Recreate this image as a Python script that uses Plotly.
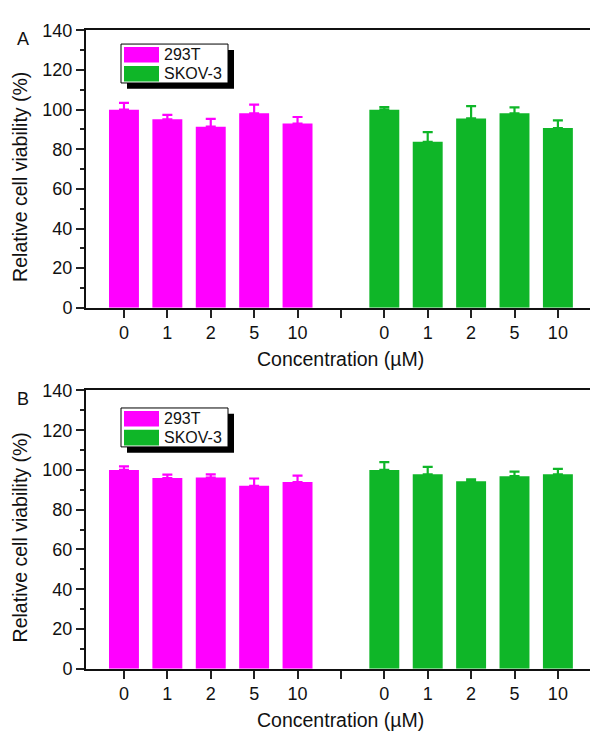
import plotly.graph_objects as go

# ---- data ----
tick_labels = ["0", "1", "2", "5", "10", "", "0", "1", "2", "5", "10"]
series_names = ["293T", "SKOV-3"]
series_colors = ["#FF00FF", "#0FB628"]
pos_293t = [0, 1, 2, 3, 4]
pos_skov = [6, 7, 8, 9, 10]

# Panel A
a_293t = [100.0, 95.1, 91.4, 98.2, 93.0]
a_293t_err = [3.4, 2.3, 4.0, 4.3, 3.3]
a_skov = [100.0, 83.8, 95.6, 98.2, 90.7]
a_skov_err = [1.3, 4.9, 6.2, 3.0, 3.9]

# Panel B
b_293t = [100.0, 95.9, 96.2, 92.0, 93.9]
b_293t_err = [1.8, 1.8, 1.6, 3.7, 3.3]
b_skov = [100.0, 97.8, 94.3, 96.9, 97.8]
b_skov_err = [3.9, 3.8, 1.0, 2.3, 2.8]

W, H = 590, 742
FONT = "Liberation Sans, Arial, sans-serif"


def px(x):
    return x / W


def py(y):
    return 1 - y / H


fig = go.Figure()

panels = [
    dict(letter="A", xa="x", ya="y", top=21, bottom=306,
         data=[(pos_293t, a_293t, a_293t_err), (pos_skov, a_skov, a_skov_err)],
         legend=(121, 35)),
    dict(letter="B", xa="x2", ya="y2", top=391, bottom=677,
         data=[(pos_293t, b_293t, b_293t_err), (pos_skov, b_skov, b_skov_err)],
         legend=(121, 409)),
]

shapes = []
annotations = []

for i, p in enumerate(panels):
    for (xs, ys, es), color, name in zip(p["data"], series_colors, series_names):
        fig.add_trace(go.Bar(
            x=xs, y=ys, name=name, xaxis=p["xa"], yaxis=p["ya"],
            width=0.69, marker=dict(color=color, line=dict(width=0)),
            error_y=dict(type="data", array=es, arrayminus=[0] * len(es),
                         symmetric=False, color=color, thickness=2.2, width=5),
            showlegend=False,
        ))

    sfx = "" if i == 0 else "2"
    dom_y = [py(p["bottom"]), py(p["top"])]
    fig.update_layout(**{
        "xaxis" + sfx: dict(
            domain=[px(86), 1], range=[-0.875, 10.74], anchor="y" + sfx,
            tickmode="array", tickvals=list(range(11)), ticktext=tick_labels,
            ticks="outside", ticklen=8, tickwidth=1.5, tickcolor="#222",
            showline=True, linecolor="#111", linewidth=2, mirror=True,
            showgrid=False, zeroline=False,
            tickfont=dict(family=FONT, size=18, color="#111"),
        ),
        "yaxis" + sfx: dict(
            domain=dom_y, range=[0, 140], anchor="x" + sfx,
            tickmode="linear", tick0=0, dtick=20,
            ticks="outside", ticklen=8, tickwidth=1.5, tickcolor="#222",
            minor=dict(dtick=10, ticks="outside", ticklen=4, tickwidth=1.5, tickcolor="#222"),
            showline=True, linecolor="#111", linewidth=2, mirror=False,
            showgrid=False, zeroline=False,
            tickfont=dict(family=FONT, size=18, color="#111"),
        ),
    })

    # Axis titles
    annotations.append(dict(
        text="Concentration (µM)", xref="paper", yref="paper",
        x=px(340), y=py(p["bottom"] + 53), xanchor="center", yanchor="middle",
        showarrow=False, font=dict(family=FONT, size=19.5, color="#111"),
    ))
    annotations.append(dict(
        text="Relative cell viability (%)", xref="paper", yref="paper",
        x=px(20), y=py((p["top"] + p["bottom"]) / 2 + 8), xanchor="center", yanchor="middle",
        textangle=-90, showarrow=False, font=dict(family=FONT, size=19.5, color="#111"),
    ))
    # Panel letter
    annotations.append(dict(
        text=p["letter"], xref="paper", yref="paper",
        x=px(23), y=py(p["top"] + 9), xanchor="center", yanchor="middle",
        showarrow=False, font=dict(family=FONT, size=18, color="#111"),
    ))

    # Custom legend box with shadow
    lx, ly = p["legend"]
    bw, bh = 107, 40
    shapes.append(dict(type="rect", xref="paper", yref="paper",
                       x0=px(lx + 6), x1=px(lx + bw + 6), y0=py(ly + 6), y1=py(ly + bh + 6),
                       fillcolor="black", line=dict(width=0)))
    shapes.append(dict(type="rect", xref="paper", yref="paper",
                       x0=px(lx), x1=px(lx + bw), y0=py(ly), y1=py(ly + bh),
                       fillcolor="white", line=dict(color="black", width=1)))
    for k, (name, color) in enumerate(zip(series_names, series_colors)):
        sy = ly + 3 + k * 19.5
        shapes.append(dict(type="rect", xref="paper", yref="paper",
                           x0=px(lx + 3), x1=px(lx + 38), y0=py(sy), y1=py(sy + 16),
                           fillcolor=color, line=dict(width=0)))
        annotations.append(dict(
            text=name, xref="paper", yref="paper",
            x=px(lx + 41), y=py(sy + 8), xanchor="left", yanchor="middle",
            showarrow=False, font=dict(family=FONT, size=16, color="#111"),
        ))

fig.update_layout(
    width=W, height=H,
    margin=dict(l=0, r=0, t=0, b=0),
    paper_bgcolor="white", plot_bgcolor="white",
    barmode="overlay",
    shapes=shapes, annotations=annotations,
    showlegend=False,
)

fig.write_html("out.html")
